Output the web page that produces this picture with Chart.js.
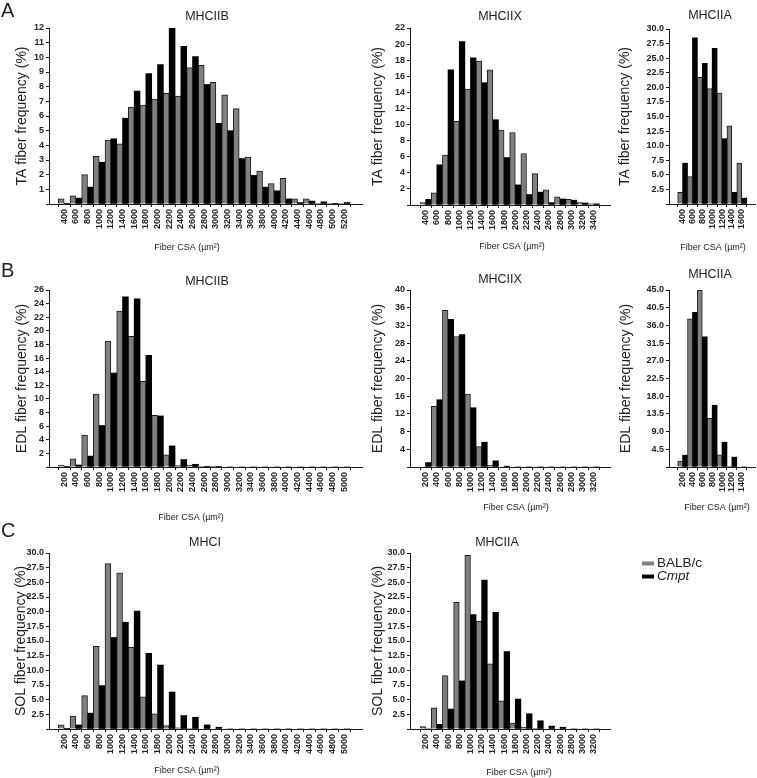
<!DOCTYPE html>
<html>
<head>
<meta charset="utf-8">
<script src="https://cdn.jsdelivr.net/npm/chart.js@4.4.1/dist/chart.umd.min.js"></script>
<style>
  html, body { margin: 0; padding: 0; background: #fff; }
  #fig { position: relative; width: 757px; height: 778px; overflow: hidden; }
  #fig canvas { position: absolute; }
</style>
</head>
<body>
<div id="fig"></div>
<script>
// Fiber CSA bins (µm²), one per histogram column
const binsTA_IIB = [400, 600, 800, 1000, 1200, 1400, 1600, 1800, 2000, 2200, 2400, 2600, 2800, 3000, 3200, 3400, 3600, 3800, 4000, 4200, 4400, 4600, 4800, 5000, 5200];
const binsTA_IIX = [400, 600, 800, 1000, 1200, 1400, 1600, 1800, 2000, 2200, 2400, 2600, 2800, 3000, 3200, 3400];
const binsTA_IIA = [400, 600, 800, 1000, 1200, 1400, 1600];
const binsWide = [200, 400, 600, 800, 1000, 1200, 1400, 1600, 1800, 2000, 2200, 2400, 2600, 2800, 3000, 3200, 3400, 3600, 3800, 4000, 4200, 4400, 4600, 4800, 5000];
const binsMid = [200, 400, 600, 800, 1000, 1200, 1400, 1600, 1800, 2000, 2200, 2400, 2600, 2800, 3000, 3200];
const binsShort = [200, 400, 600, 800, 1000, 1200, 1400];

const seriesNames = ['BALB/c', 'Cmpt'];

// frequencies (%)
const taIIB_balb = [0.35, 0.55, 2.0, 3.25, 4.35, 4.1, 6.6, 6.75, 7.15, 7.55, 7.35, 9.3, 9.45, 8.3, 7.45, 6.5, 3.2, 2.25, 1.4, 1.75, 0.35, 0.35, 0.05, 0.02, 0.03];
const taIIB_cmpt = [0.05, 0.4, 1.15, 2.85, 4.45, 5.85, 7.7, 8.9, 9.5, 12.0, 10.75, 10.05, 8.15, 5.5, 5.0, 3.1, 1.95, 1.15, 0.9, 0.35, 0.1, 0.2, 0.15, 0.02, 0.1];
const taIIX_balb = [0.3, 1.5, 6.2, 10.4, 14.4, 17.9, 16.8, 9.3, 9.0, 6.4, 3.9, 1.9, 1.0, 0.7, 0.3, 0.15];
const taIIX_cmpt = [0.7, 5.0, 16.8, 20.3, 18.3, 15.2, 10.6, 5.9, 2.5, 1.3, 1.6, 0.3, 0.75, 0.6, 0.25, 0.15];
const taIIA_balb = [2.0, 4.7, 21.7, 19.8, 19.0, 13.4, 7.0];
const taIIA_cmpt = [7.0, 28.5, 24.1, 26.7, 11.2, 2.0, 1.0];

const edlIIB_balb = [0.3, 1.2, 4.7, 10.7, 18.5, 22.9, 19.2, 12.6, 7.6, 1.8, 0.2, 0.3, 0.1, 0.05, 0, 0, 0, 0, 0, 0, 0, 0, 0, 0, 0];
const edlIIB_cmpt = [0.05, 0.3, 1.6, 6.1, 13.8, 25.0, 24.7, 16.4, 7.5, 3.1, 1.1, 0.4, 0.1, 0.1, 0, 0, 0, 0, 0, 0, 0, 0, 0, 0, 0];
const edlIIX_balb = [0, 13.7, 35.4, 29.5, 16.5, 4.6, 0.4, 0, 0, 0, 0, 0, 0, 0, 0, 0];
const edlIIX_cmpt = [1.0, 15.2, 33.4, 29.9, 13.4, 5.6, 1.4, 0.2, 0, 0, 0, 0, 0, 0, 0, 0];
const edlIIA_balb = [1.5, 37.7, 45.0, 12.4, 3.1, 0.1, 0];
const edlIIA_cmpt = [3.0, 39.3, 33.1, 15.7, 6.3, 2.5, 0];

const solI_balb = [0.7, 2.2, 5.7, 14.1, 28.2, 26.6, 13.9, 5.5, 2.6, 0.6, 0.2, 0.1, 0, 0, 0, 0, 0, 0, 0, 0, 0, 0, 0, 0, 0];
const solI_cmpt = [0.05, 0.7, 2.7, 7.4, 15.6, 18.2, 20.1, 12.9, 10.9, 6.3, 2.3, 2.0, 0.7, 0.3, 0, 0, 0, 0, 0, 0, 0, 0, 0, 0, 0];
const solIIA_balb = [0.4, 3.6, 9.1, 21.6, 29.6, 18.4, 11.1, 4.8, 1.0, 0.3, 0.1, 0, 0, 0, 0, 0];
const solIIA_cmpt = [0, 0.8, 3.4, 8.2, 19.5, 25.4, 19.9, 13.2, 5.1, 2.6, 1.4, 0.5, 0.3, 0, 0, 0];

// y axis tops and steps
const yMaxes = [12, 22, 30, 26, 40, 45, 30, 30];
const ySteps = [1, 2, 2.5, 2, 4, 4.5, 2.5, 2.5];

const FONT = '"Liberation Sans", Arial, Helvetica, sans-serif';
const TEXT = '#222';
const AXIS = '#1a1a1a';
const GREY = '#808080';
const BLACK = '#000000';
Chart.defaults.font.family = FONT;
Chart.defaults.color = TEXT;

const xTitle = 'Fiber CSA (µm²)';

// page layout: box = canvas [x, y, w, h]; plot = [left, top, right, bottom]; tickPx = first/last bin pixel
const panels = [
  { title: 'MHCIIB', yTitle: 'TA fiber frequency (%)', bins: binsTA_IIB, a: taIIB_balb, b: taIIB_cmpt,
    box: [0, 0, 366, 262], plot: [49, 28, 362, 204], tickPx: [58.3, 350], titleXY: [207, 17], xTitleXY: [187, 248], yTitleX: 22, letter: ['A', 17] },
  { title: 'MHCIIX', yTitle: 'TA fiber frequency (%)', bins: binsTA_IIX, a: taIIX_balb, b: taIIX_cmpt,
    box: [366, 0, 248, 262], plot: [410, 28, 610, 205], tickPx: [420, 599.3], titleXY: [500, 17], xTitleXY: [512, 247], yTitleX: 378 },
  { title: 'MHCIIA', yTitle: 'TA fiber frequency (%)', bins: binsTA_IIA, a: taIIA_balb, b: taIIA_cmpt,
    box: [614, 0, 150, 262], plot: [669, 29, 755, 204], tickPx: [677.7, 746.7], titleXY: [710, 16], xTitleXY: [713, 248], yTitleX: 625 },
  { title: 'MHCIIB', yTitle: 'EDL fiber frequency (%)', bins: binsWide, a: edlIIB_balb, b: edlIIB_cmpt,
    box: [0, 258, 366, 266], plot: [49, 290, 362, 467], tickPx: [58.3, 350], titleXY: [207, 282], xTitleXY: [191, 518], yTitleX: 22, letter: ['B', 277] },
  { title: 'MHCIIX', yTitle: 'EDL fiber frequency (%)', bins: binsMid, a: edlIIX_balb, b: edlIIX_cmpt,
    box: [366, 258, 248, 266], plot: [410, 290, 610, 467], tickPx: [420, 599.3], titleXY: [500, 280], xTitleXY: [516, 508], yTitleX: 378 },
  { title: 'MHCIIA', yTitle: 'EDL fiber frequency (%)', bins: binsShort, a: edlIIA_balb, b: edlIIA_cmpt,
    box: [614, 258, 150, 266], plot: [669, 290, 755, 467], tickPx: [677.7, 746.7], titleXY: [710, 275], xTitleXY: [717, 508], yTitleX: 626 },
  { title: 'MHCI', yTitle: 'SOL fiber frequency (%)', bins: binsWide, a: solI_balb, b: solI_cmpt,
    box: [0, 520, 366, 258], plot: [49, 553, 362, 729], tickPx: [58.3, 350], titleXY: [205, 543], xTitleXY: [187, 771], yTitleX: 21, letter: ['C', 537] },
  { title: 'MHCIIA', yTitle: 'SOL fiber frequency (%)', bins: binsMid, a: solIIA_balb, b: solIIA_cmpt,
    box: [366, 520, 391, 258], plot: [410, 553, 610, 729], tickPx: [420, 599.3], titleXY: [497, 543], xTitleXY: [519, 773], yTitleX: 378,
    legend: { x: 642, y: 563.5, gap: 13, italic: [false, true] } }
];

// draws panel titles, x titles, panel letters and the legend
const figText = {
  id: 'figText',
  afterDraw(chart, args, opts) {
    const ctx = chart.ctx;
    const [ox, oy] = opts.origin;
    ctx.save();
    ctx.fillStyle = TEXT;
    opts.items.forEach(it => {
      ctx.font = it.font;
      ctx.textAlign = it.align || 'center';
      ctx.textBaseline = it.baseline || 'middle';
      ctx.fillText(it.text, it.x - ox, it.y - oy);
    });
    if (opts.legend) {
      const L = opts.legend;
      chart.data.datasets.forEach((ds, i) => {
        const y = L.y + i * L.gap - oy;
        ctx.fillStyle = ds.backgroundColor;
        ctx.fillRect(L.x - ox, y - 2, 12, 4);
        ctx.fillStyle = TEXT;
        ctx.font = (L.italic[i] ? 'italic ' : '') + '13.5px ' + FONT;
        ctx.textAlign = 'left';
        ctx.textBaseline = 'middle';
        ctx.fillText(ds.label, L.x - ox + 15, y);
      });
    }
    ctx.restore();
  }
};

const fig = document.getElementById('fig');

panels.forEach((p, idx) => {
  const [bx, by, bw, bh] = p.box;
  const [pl, pt, pr, pb] = p.plot;
  const cv = document.createElement('canvas');
  cv.width = bw; cv.height = bh;
  cv.style.left = bx + 'px'; cv.style.top = by + 'px';
  cv.style.width = bw + 'px'; cv.style.height = bh + 'px';
  fig.appendChild(cv);

  const first = p.bins[0], last = p.bins[p.bins.length - 1];
  const upp = (last - first) / (p.tickPx[1] - p.tickPx[0]);
  const xMin = first - (p.tickPx[0] - pl) * upp;
  const xMax = last + (pr - p.tickPx[1]) * upp;
  const step = ySteps[idx];

  const items = [
    { text: p.title, x: p.titleXY[0], y: p.titleXY[1], font: '12.5px ' + FONT },
    { text: xTitle, x: p.xTitleXY[0], y: p.xTitleXY[1], font: '9px ' + FONT }
  ];
  if (p.letter) items.push({ text: p.letter[0], x: 1, y: p.letter[1], font: '20px ' + FONT, align: 'left', baseline: 'alphabetic' });

  new Chart(cv, {
    type: 'bar',
    data: {
      labels: p.bins,
      datasets: [
        { label: seriesNames[0], data: p.a, backgroundColor: GREY, borderColor: AXIS, borderWidth: 1 },
        { label: seriesNames[1], data: p.b, backgroundColor: BLACK, borderWidth: 0 }
      ]
    },
    options: {
      responsive: false,
      animation: false,
      devicePixelRatio: 1,
      layout: { padding: { left: 0, top: pt - by, right: bx + bw - pr, bottom: 0 } },
      datasets: { bar: { categoryPercentage: 1, barPercentage: 1 } },
      plugins: {
        legend: { display: false },
        tooltip: { enabled: false },
        figText: { origin: [bx, by], items: items, legend: p.legend }
      },
      scales: {
        x: {
          type: 'linear', min: xMin, max: xMax,
          afterFit: s => { s.height = by + bh - pb; },
          grid: { drawOnChartArea: false, tickLength: 3, color: AXIS },
          border: { color: AXIS, width: 1 },
          ticks: {
            stepSize: 200, includeBounds: false, autoSkip: false,
            minRotation: 90, maxRotation: 90, padding: 2,
            color: TEXT, font: { size: 9, weight: 'bold' },
            callback: v => String(v)
          }
        },
        y: {
          min: 0, max: yMaxes[idx],
          afterFit: s => { s.width = pl - bx; },
          grid: { drawOnChartArea: false, tickLength: 3, color: AXIS },
          border: { color: AXIS, width: 1 },
          ticks: {
            stepSize: step, autoSkip: false, padding: 2, color: TEXT, font: { size: 9, weight: 'bold' },
            callback: v => v === 0 ? '' : (step % 1 ? v.toFixed(1) : String(v))
          },
          title: {
            display: true, text: p.yTitle, color: TEXT, font: { size: 14 },
            padding: { top: p.yTitleX - bx - 8.4, bottom: 0 }
          }
        }
      }
    },
    plugins: [figText]
  });
});
</script>
</body>
</html>
